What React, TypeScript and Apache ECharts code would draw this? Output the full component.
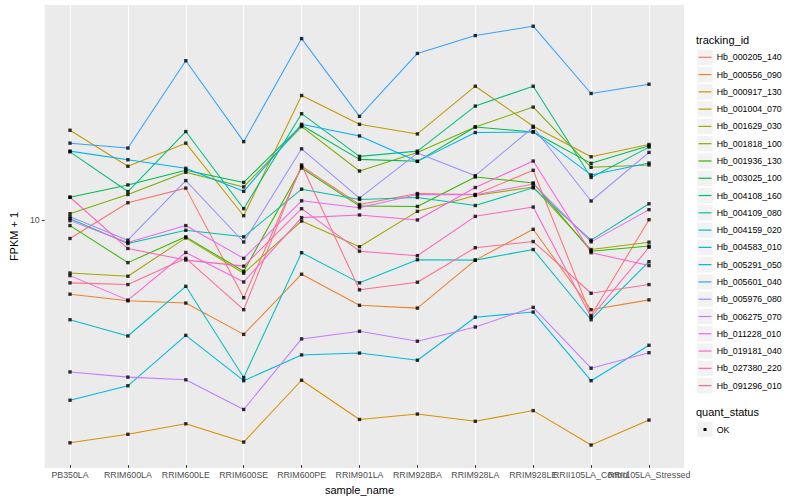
import React, { useEffect, useRef } from 'react';
import * as echarts from 'echarts';

const categories = [
  'PB350LA', 'RRIM600LA', 'RRIM600LE', 'RRIM600SE', 'RRIM600PE', 'RRIM901LA',
  'RRIM928BA', 'RRIM928LA', 'RRIM928LE', 'RRII105LA_Control', 'RRII105LA_Stressed',
];

const trackingIds = [
  'Hb_000205_140', 'Hb_000556_090', 'Hb_000917_130', 'Hb_001004_070', 'Hb_001629_030',
  'Hb_001818_100', 'Hb_001936_130', 'Hb_003025_100', 'Hb_004108_160', 'Hb_004109_080',
  'Hb_004159_020', 'Hb_004583_010', 'Hb_005291_050', 'Hb_005601_040', 'Hb_005976_080',
  'Hb_006275_070', 'Hb_011228_010', 'Hb_019181_040', 'Hb_027380_220', 'Hb_091296_010',
];

const lineColors = [
  '#F8766D', '#EA8331', '#D89000', '#C09B00', '#A3A500', '#7CAE00', '#39B600', '#00BB4E',
  '#00BF7D', '#00C1A3', '#00BFC4', '#00BAE0', '#00B0F6', '#35A2FF', '#9590FF', '#C77CFF',
  '#E76BF3', '#FA62DB', '#FF62BC', '#FF6C91',
];

// FPKM + 1 per sample, in category order
const hb000205_140 = [8.58, 11.31, 12.66, 5.43, 14.99, 11.16, 12.14, 12.05, 14.53, 4.73, 9.92];
const hb000556_090 = [5.58, 5.3, 5.21, 4.09, 6.51, 5.12, 5.01, 7.26, 9.21, 4.95, 5.34];
const hb000917_130 = [1.77, 1.89, 2.05, 1.78, 2.87, 2.12, 2.21, 2.09, 2.27, 1.74, 2.11];
const hb001004_070 = [19.8, 14.99, 17.92, 10.23, 25.9, 20.73, 19.24, 27.82, 20.42, 16.13, 17.74];
const hb001629_030 = [6.57, 6.41, 8.62, 6.56, 9.82, 8.05, 10.58, 11.96, 12.78, 7.88, 8.34];
const hb001818_100 = [10.39, 12.05, 14.31, 12.78, 20.37, 14.45, 16.68, 20.31, 23.68, 14.87, 15.14];
const hb001936_130 = [9.48, 7.12, 8.69, 6.66, 14.79, 11.02, 10.99, 13.8, 13.18, 7.78, 8.09];
const hb003025_100 = [11.8, 12.98, 14.53, 13.23, 20.57, 15.81, 15.57, 20.31, 19.54, 15.33, 17.55];
const hb004108_160 = [16.76, 12.33, 19.6, 10.8, 22.5, 16.18, 16.85, 23.86, 27.82, 13.75, 17.38];
const hb004109_080 = [10.0, 8.25, 9.14, 8.69, 12.56, 11.6, 11.78, 11.07, 12.69, 8.47, 11.22];
const hb004159_020 = [4.58, 4.04, 5.93, 2.93, 7.69, 6.09, 7.28, 7.26, 7.88, 4.58, 7.17];
const hb004583_010 = [2.46, 2.75, 4.06, 2.86, 3.49, 3.54, 3.35, 4.67, 4.86, 2.86, 3.76];
const hb005291_050 = [16.85, 15.76, 14.76, 12.35, 20.73, 18.95, 15.57, 19.45, 19.54, 14.02, 15.37];
const hb005601_040 = [17.92, 17.25, 33.88, 18.13, 40.2, 22.04, 35.84, 41.14, 44.23, 26.3, 28.25];
const hb005976_080 = [10.15, 8.47, 13.42, 8.35, 17.15, 11.72, 16.6, 13.94, 20.26, 11.46, 16.68];
const hb006275_070 = [3.06, 2.94, 2.88, 2.29, 3.95, 4.19, 3.88, 4.33, 5.04, 3.15, 3.55];
const hb011228_010 = [9.85, 8.32, 9.48, 7.36, 11.48, 10.88, 12.05, 12.02, 13.08, 8.36, 10.72];
const hb019181_040 = [6.44, 5.33, 7.7, 6.13, 10.08, 10.29, 9.9, 12.72, 15.61, 7.69, 6.96];
const hb027380_220 = [11.8, 7.94, 7.26, 6.93, 10.8, 7.78, 7.51, 10.18, 10.94, 4.67, 8.02];
const hb091296_010 = [6.09, 6.01, 7.36, 4.95, 15.14, 5.77, 6.12, 7.99, 8.38, 5.62, 6.01];

const seriesValues = [
  hb000205_140, hb000556_090, hb000917_130, hb001004_070, hb001629_030,
  hb001818_100, hb001936_130, hb003025_100, hb004108_160, hb004109_080,
  hb004159_020, hb004583_010, hb005291_050, hb005601_040, hb005976_080,
  hb006275_070, hb011228_010, hb019181_040, hb027380_220, hb091296_010,
];

const yMin = 1.49;
const yMax = 52.1;
const yTickValues = [10];
const quantStatus = ['OK'];

const FONT = '"Liberation Sans", Arial, Helvetica, sans-serif';

export default function App() {
  const ref = useRef<HTMLDivElement>(null);

  useEffect(() => {
    if (!ref.current) return;
    const chart = echarts.init(ref.current, null, { renderer: 'svg' });

    const lineSeries = trackingIds.map((name, i) => ({
      type: 'line',
      name,
      xAxisIndex: 1,
      yAxisIndex: 1,
      data: seriesValues[i],
      showSymbol: false,
      symbol: 'none',
      clip: false,
      silent: true,
      lineStyle: { color: lineColors[i], width: 1.05 },
      itemStyle: { color: lineColors[i] },
      emphasis: { disabled: true },
      z: 3,
    }));

    const pointData: number[][] = [];
    seriesValues.forEach((vals) => vals.forEach((v, j) => pointData.push([j, v])));

    const legendElems: any[] = [];
    const rowH = 17.28;
    const firstRowY = 57.3;
    const keyX = 697.3;
    const keyW = 15.4;
    legendElems.push({
      type: 'text', x: 696, y: 40,
      style: { text: 'tracking_id', font: `11px ${FONT}`, fill: '#000', verticalAlign: 'middle', textVerticalAlign: 'middle' },
    });
    trackingIds.forEach((name, i) => {
      const cy = firstRowY + i * rowH;
      legendElems.push({ type: 'rect', shape: { x: keyX, y: cy - keyW / 2, width: keyW, height: keyW }, style: { fill: '#F2F2F2' } });
      legendElems.push({ type: 'line', shape: { x1: keyX + 1.2, y1: cy, x2: keyX + keyW - 1.2, y2: cy }, style: { stroke: lineColors[i], lineWidth: 1.2 } });
      legendElems.push({
        type: 'text', x: 716.7, y: cy,
        style: { text: name, font: `8.8px ${FONT}`, fill: '#000', verticalAlign: 'middle', textVerticalAlign: 'middle' },
      });
    });
    legendElems.push({
      type: 'text', x: 696, y: 412.3,
      style: { text: 'quant_status', font: `11px ${FONT}`, fill: '#000', verticalAlign: 'middle', textVerticalAlign: 'middle' },
    });
    quantStatus.forEach((s, i) => {
      const cy = 429.5 + i * rowH;
      legendElems.push({ type: 'rect', shape: { x: keyX, y: cy - keyW / 2, width: keyW, height: keyW }, style: { fill: '#F2F2F2' } });
      legendElems.push({ type: 'rect', shape: { x: keyX + keyW / 2 - 1.5, y: cy - 1.5, width: 3, height: 3 }, style: { fill: '#000' } });
      legendElems.push({
        type: 'text', x: 716.7, y: cy,
        style: { text: s, font: `8.8px ${FONT}`, fill: '#000', verticalAlign: 'middle', textVerticalAlign: 'middle' },
      });
    });

    chart.setOption({
      animation: false,
      backgroundColor: '#FFFFFF',
      textStyle: { fontFamily: FONT },
      grid: [
        { left: 35, right: 116, top: 5, bottom: 32, show: true, backgroundColor: '#EBEBEB', borderWidth: 0 },
        { left: 70, right: 151, top: 5, bottom: 32, show: false },
      ],
      xAxis: [
        { gridIndex: 0, type: 'value', show: false, min: 0, max: 1 },
        {
          gridIndex: 1,
          type: 'category',
          data: categories,
          boundaryGap: false,
          axisLine: { show: false },
          axisTick: { show: true, length: 2.75, lineStyle: { color: '#333333', width: 1 } },
          axisLabel: { interval: 0, fontSize: 8.8, color: '#4D4D4D', fontFamily: FONT, margin: 5, hideOverlap: false },
          splitLine: { show: true, lineStyle: { color: '#FFFFFF', width: 1.07 } },
          name: 'sample_name',
          nameLocation: 'middle',
          nameGap: 13.5,
          nameTextStyle: { fontSize: 11, color: '#000000', fontFamily: FONT },
        },
      ],
      yAxis: [
        {
          gridIndex: 0,
          type: 'log',
          logBase: 10,
          min: yMin,
          max: yMax,
          axisLine: { show: false },
          axisTick: { show: true, length: 2.75, lineStyle: { color: '#333333', width: 1 }, customValues: yTickValues },
          axisLabel: {
            customValues: yTickValues, fontSize: 8.8, color: '#4D4D4D', fontFamily: FONT, margin: 5,
            showMinLabel: false, showMaxLabel: false,
          },
          splitLine: { show: true, showMinLine: false, showMaxLine: false, lineStyle: { color: '#FFFFFF', width: 1.07 } },
          name: 'FPKM + 1',
          nameLocation: 'middle',
          nameRotate: 90,
          nameGap: 19,
          nameTextStyle: { fontSize: 11, color: '#000000', fontFamily: FONT },
        },
        { gridIndex: 1, type: 'log', logBase: 10, min: yMin, max: yMax, show: false },
      ],
      series: [
        ...lineSeries,
        {
          type: 'scatter',
          name: 'quant_status',
          xAxisIndex: 1,
          yAxisIndex: 1,
          data: pointData,
          symbol: 'rect',
          symbolSize: 3.4,
          clip: false,
          silent: true,
          itemStyle: { color: '#000000' },
          z: 4,
        },
      ],
      graphic: { elements: legendElems },
    });

    return () => chart.dispose();
  }, []);

  return <div ref={ref} style={{ position: 'fixed', left: 0, top: 0, width: 800, height: 500 }} />;
}
